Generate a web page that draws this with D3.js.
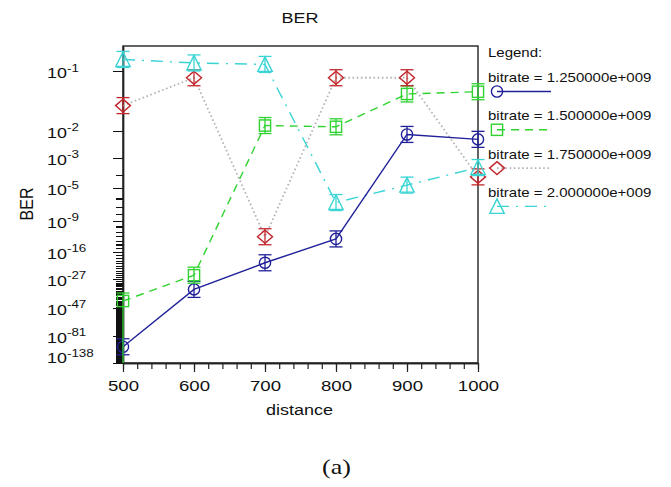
<!DOCTYPE html>
<html>
<head>
<meta charset="utf-8">
<script src="https://cdn.jsdelivr.net/npm/d3@7"></script>
<style>
  html, body { margin: 0; padding: 0; background: #fff; }
  svg { display: block; font-family: "Liberation Sans", Arial, sans-serif; }
</style>
</head>
<body>
<svg id="chart" width="671" height="487"></svg>
<script>
// ---- data -------------------------------------------------------------
const distance = [500, 600, 700, 800, 900, 1000];
const seriesNames = [
  "bitrate = 1.250000e+009",
  "bitrate = 1.500000e+009",
  "bitrate = 1.750000e+009",
  "bitrate = 2.000000e+009"
];
const ber125 = [3.2e-101, 1.0e-33, 1.6e-20, 2.5e-13, 7.9e-3, 5.5e-3];
const ber150 = [5.0e-42, 8.0e-26, 1.4e-2, 1.3e-2, 5.6e-2, 6.0e-2];
const ber175 = [3.7e-2, 8.7e-2, 8.0e-13, 8.7e-2, 8.7e-2, 7.6e-5];
const ber200 = [1.24e-1, 1.17e-1, 1.14e-1, 3.5e-7, 1.8e-5, 3.0e-4];
const berTickExponents = [1, 2, 3, 5, 9, 16, 27, 47, 81, 138];
const distanceTicks = [500, 600, 700, 800, 900, 1000];
// confidence interval: spans depth/ciRatio .. depth*ciRatio on the BER axis
const ciRatio = 1.17;
// [series, point] whose interval is unbounded below
const ciOpenBelow = [[1, 0]];

// ---- layout -----------------------------------------------------------
const svg = d3.select("#chart");
const plot = { left: 123, right: 478, top: 46, bottom: 363 };
const SX = 1.2; // horizontal stretch of the text

const x = d3.scaleLinear().domain([500, 1000]).range([plot.left, plot.right]);

// BER axis: log scale on the (shifted) decade depth -log10(BER)
const warp = 0.55;
const depth = ber => -Math.log10(ber) - warp;
const yDepth = d3.scaleLog()
  .domain([depth(0.15), depth(1e-138)])
  .range([plot.top, plot.bottom])
  .clamp(true);
const y = ber => yDepth(depth(ber));

const styles = [
  { color: "#20209a", line: "#20209a", dash: null, symbol: "circle" },
  { color: "#2fd22f", line: "#2fd22f", dash: "8,6", symbol: "square" },
  { color: "#c2262b", line: "#b4b4b4", dash: "1.6,2.6", symbol: "diamond" },
  { color: "#3ad4d4", line: "#3ad4d4", dash: "12,7,2,7", symbol: "triangle" }
];
const seriesValues = [ber125, ber150, ber175, ber200];

function drawSymbol(g, kind, color) {
  const common = s => s.attr("fill", "none").attr("stroke", color).attr("stroke-width", 1.4);
  if (kind === "circle") g.append("circle").attr("r", 5.6).call(common);
  else if (kind === "square") g.append("rect").attr("x", -5.6).attr("y", -5.6).attr("width", 11.2).attr("height", 11.2).call(common);
  else if (kind === "diamond") g.append("path").attr("d", "M0,-6.5L7.5,0L0,6.5L-7.5,0Z").call(common);
  else g.append("path").attr("d", "M0,-7.5L7.2,7L-7.2,7Z").call(common);
}

function stretchedText(parent, px, py, str, size, anchor, sx) {
  return parent.append("text")
    .attr("transform", `translate(${px},${py}) scale(${sx || SX},1)`)
    .attr("text-anchor", anchor || "start")
    .attr("font-size", size)
    .attr("fill", "#111")
    .text(str);
}

// ---- frame ------------------------------------------------------------
svg.append("rect")
  .attr("x", plot.left).attr("y", plot.top)
  .attr("width", plot.right - plot.left).attr("height", plot.bottom - plot.top)
  .attr("fill", "none").attr("stroke", "#222").attr("stroke-width", 1.4);

// ---- x axis -----------------------------------------------------------
const xMinor = svg.append("g").attr("transform", `translate(0,${plot.bottom})`)
  .call(d3.axisBottom(x).tickValues(d3.range(500, 1001, 20)).tickSize(6).tickSizeOuter(0).tickFormat(""));
const xMajor = svg.append("g").attr("transform", `translate(0,${plot.bottom})`)
  .call(d3.axisBottom(x).tickValues(distanceTicks).tickSize(9).tickPadding(8).tickSizeOuter(0).tickFormat(d3.format("d")));
[xMinor, xMajor].forEach(g => {
  g.select(".domain").attr("stroke", "#222").attr("stroke-width", 1.4);
  g.selectAll(".tick line").attr("stroke", "#222").attr("stroke-width", 1.2);
});
xMajor.attr("font-size", null).attr("font-family", null);
xMajor.selectAll(".tick text")
  .attr("font-size", 15.5)
  .attr("fill", "#111")
  .attr("transform", `scale(${SX},1)`);

// ---- y axis -----------------------------------------------------------
const majorDepths = berTickExponents.map(e => e - warp);
const minorDepths = d3.range(2, 138).filter(e => !berTickExponents.includes(e)).map(e => e - warp);
const yMinor = svg.append("g").attr("transform", `translate(${plot.left},0)`)
  .call(d3.axisLeft(yDepth).tickValues(minorDepths).tickSize(7).tickSizeOuter(0).tickFormat(""));
const yMajor = svg.append("g").attr("transform", `translate(${plot.left},0)`)
  .call(d3.axisLeft(yDepth).tickValues(majorDepths).tickSize(10).tickSizeOuter(0).tickFormat(""));
[yMinor, yMajor].forEach(g => {
  g.select(".domain").attr("stroke", "#222").attr("stroke-width", 1.4);
  g.selectAll(".tick line").attr("stroke", "#111").attr("stroke-width", 1.1)
    .attr("shape-rendering", "crispEdges");
});

// power-of-ten labels, left aligned
const yLabels = svg.append("g");
berTickExponents.forEach(e => {
  const ty = yDepth(e - warp);
  const base = Math.min(ty + 7, plot.bottom);
  const t = yLabels.append("text")
    .attr("transform", `translate(47,${base}) scale(1.28,1)`)
    .attr("font-size", 14)
    .attr("fill", "#111");
  t.append("tspan").text("10");
  t.append("tspan").attr("dy", -6.5).attr("font-size", 10.5).text("-" + e);
});

// ---- titles -----------------------------------------------------------
stretchedText(svg, 300, 22.7, "BER", 15, "middle");
stretchedText(svg, 299.5, 415, "distance", 15, "middle");
svg.append("text")
  .attr("transform", `translate(33,204) scale(${SX},1) rotate(-90)`)
  .attr("text-anchor", "middle")
  .attr("font-size", 16)
  .attr("fill", "#111")
  .text("BER");
svg.append("text")
  .attr("transform", "translate(336.5,473.5) scale(1.3,1)")
  .attr("text-anchor", "middle")
  .attr("font-family", "Liberation Serif, 'Times New Roman', serif")
  .attr("font-size", 20)
  .attr("fill", "#111")
  .text("(a)");

// ---- series -----------------------------------------------------------
const line = d3.line().x(d => x(d.d)).y(d => y(d.b));
const seriesData = seriesValues.map(vals => distance.map((d, i) => ({ d, b: vals[i] })));

const linesG = svg.append("g");
// draw dotted first so the others sit on top
[2, 1, 3, 0].forEach(s => {
  const st = styles[s];
  linesG.append("path")
    .datum(seriesData[s])
    .attr("d", line)
    .attr("fill", "none")
    .attr("stroke", st.line)
    .attr("stroke-width", s === 2 ? 1.8 : 1.4)
    .attr("stroke-dasharray", st.dash);
});

const marksG = svg.append("g");
seriesData.forEach((pts, s) => {
  const st = styles[s];
  pts.forEach((p, i) => {
    const dep = depth(p.b);
    const yc = y(p.b);
    const yUp = yDepth(dep / ciRatio);
    const open = ciOpenBelow.some(([a, b]) => a === s && b === i);
    const yLow = open ? plot.bottom : yDepth(dep * ciRatio);
    const cx = x(p.d);
    const eb = marksG.append("g").attr("stroke", st.color).attr("stroke-width", 1.3);
    eb.append("line").attr("x1", cx).attr("x2", cx).attr("y1", yUp).attr("y2", yLow);
    eb.append("line").attr("x1", cx - 6.5).attr("x2", cx + 6.5).attr("y1", yUp).attr("y2", yUp);
    if (!open) eb.append("line").attr("x1", cx - 6.5).attr("x2", cx + 6.5).attr("y1", yLow).attr("y2", yLow);
    const g = marksG.append("g").attr("transform", `translate(${cx},${yc})`);
    drawSymbol(g, st.symbol, st.color);
  });
});

// ---- legend -----------------------------------------------------------
const legend = svg.append("g");
stretchedText(legend, 488, 57, "Legend:", 12.5, "start");
seriesNames.forEach((name, s) => {
  const st = styles[s];
  const base = 82 + s * 38.3;
  stretchedText(legend, 488, base, name, 12.5, "start");
  const ry = base + 9.5;
  legend.append("line")
    .attr("x1", 497).attr("x2", 551).attr("y1", ry).attr("y2", ry)
    .attr("stroke", st.line).attr("stroke-width", s === 2 ? 1.8 : 1.4)
    .attr("stroke-dasharray", st.dash);
  const g = legend.append("g").attr("transform", `translate(497,${ry})`);
  drawSymbol(g, st.symbol, st.color);
});
</script>
</body>
</html>
